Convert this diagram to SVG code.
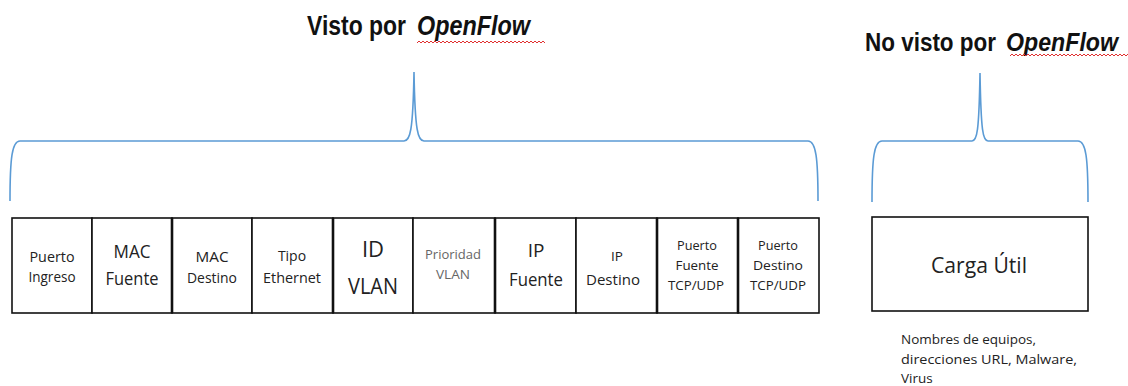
<svg xmlns="http://www.w3.org/2000/svg" width="1128" height="386" viewBox="0 0 1128 386">
  <style>
    .title { font-family: "Liberation Sans", Arial, sans-serif; font-weight: bold; font-size: 27px; fill: #111; }
    .title2 { font-family: "Liberation Sans", Arial, sans-serif; font-weight: bold; font-size: 25px; fill: #111; }
    .brand { font-style: italic; }
    .brace { fill: none; stroke: #5B9BD5; stroke-width: 1.6; }
    .cell { fill: #fff; stroke: #111; stroke-width: 1.6; }
    .sep { stroke: #111; stroke-width: 2.6; }
    .t { font-family: "Open Sans", "Noto Sans", sans-serif; fill: #222; text-anchor: middle; }
    .sm { font-size: 14px; }
    .md { font-size: 13.5px; }
    .lg { font-size: 19px; }
    .xl { font-size: 22px; }
    .xs { font-size: 12.5px; fill: #666; }
    .note { font-family: "Open Sans", "Noto Sans", sans-serif; font-size: 13.5px; fill: #222; }
    .squiggle { fill: none; stroke: #e03030; stroke-width: 1; }
  </style>

  <!-- headings -->
  <g id="heading-visto">
    <text class="title" x="307" y="35" textLength="99" lengthAdjust="spacingAndGlyphs">Visto por</text>
    <text class="title brand" x="417" y="35" textLength="113" lengthAdjust="spacingAndGlyphs">OpenFlow</text>
    <path class="squiggle" d="M417,43 l2,-2 l2,2 l2,-2 l2,2 l2,-2 l2,2 l2,-2 l2,2 l2,-2 l2,2 l2,-2 l2,2 l2,-2 l2,2 l2,-2 l2,2 l2,-2 l2,2 l2,-2 l2,2 l2,-2 l2,2 l2,-2 l2,2 l2,-2 l2,2 l2,-2 l2,2 l2,-2 l2,2 l2,-2 l2,2 l2,-2 l2,2 l2,-2 l2,2 l2,-2 l2,2 l2,-2 l2,2 l2,-2 l2,2 l2,-2 l2,2 l2,-2 l2,2 l2,-2 l2,2 l2,-2 l2,2 l2,-2 l2,2 l2,-2 l2,2 l2,-2 l2,2 l2,-2 l2,2 l2,-2 l2,2 l2,-2 l2,2 l2,-2 l2,2"/>
  </g>
  <g id="heading-no-visto">
    <text class="title2" x="865" y="51" textLength="131" lengthAdjust="spacingAndGlyphs">No visto por</text>
    <text class="title2 brand" x="1006" y="51" textLength="112" lengthAdjust="spacingAndGlyphs">OpenFlow</text>
    <path class="squiggle" d="M1010,56 l2,-2 l2,2 l2,-2 l2,2 l2,-2 l2,2 l2,-2 l2,2 l2,-2 l2,2 l2,-2 l2,2 l2,-2 l2,2 l2,-2 l2,2 l2,-2 l2,2 l2,-2 l2,2 l2,-2 l2,2 l2,-2 l2,2 l2,-2 l2,2 l2,-2 l2,2 l2,-2 l2,2 l2,-2 l2,2 l2,-2 l2,2 l2,-2 l2,2 l2,-2 l2,2 l2,-2 l2,2 l2,-2 l2,2 l2,-2 l2,2 l2,-2 l2,2 l2,-2 l2,2 l2,-2 l2,2 l2,-2 l2,2 l2,-2 l2,2 l2,-2 l2,2 l2,-2 l2,2 l2,-2"/>
  </g>

  <!-- braces -->
  <g id="connectors">
    <path class="brace" d="M10,201 C10,158 12,141 20,141 L404,141 C410,141 413,132 414,72 C415,132 418,141 424,141 L808,141 C816,141 818,158 818,201"/>
    <path class="brace" d="M872,202 C872,158 874,141 882,141 L972,141 C977,141 979,132 980,73 C981,132 983,141 988,141 L1078,141 C1086,141 1088,158 1088,202"/>
  </g>

  <!-- header fields -->
  <g id="field-puerto-ingreso">
    <rect class="cell" x="12" y="218" width="80" height="95"/>
    <text class="t sm" x="52" y="262" textLength="45" lengthAdjust="spacingAndGlyphs">Puerto</text>
    <text class="t sm" x="52" y="282" textLength="47" lengthAdjust="spacingAndGlyphs">Ingreso</text>
  </g>
  <g id="field-mac-fuente">
    <rect class="cell" x="92" y="218" width="80" height="95"/>
    <text class="t lg" x="132" y="258" textLength="37" lengthAdjust="spacingAndGlyphs">MAC</text>
    <text class="t lg" x="132" y="285" textLength="53" lengthAdjust="spacingAndGlyphs">Fuente</text>
  </g>
  <g id="field-mac-destino">
    <rect class="cell" x="172" y="218" width="80" height="95"/>
    <text class="t sm" x="212" y="262" textLength="33" lengthAdjust="spacingAndGlyphs">MAC</text>
    <text class="t sm" x="212" y="283" textLength="50" lengthAdjust="spacingAndGlyphs">Destino</text>
  </g>
  <g id="field-tipo-ethernet">
    <rect class="cell" x="252" y="218" width="81" height="95"/>
    <text class="t sm" x="292" y="261">Tipo</text>
    <text class="t sm" x="292" y="283" textLength="58" lengthAdjust="spacingAndGlyphs">Ethernet</text>
  </g>
  <g id="field-id-vlan">
    <rect class="cell" x="333" y="218" width="80" height="95"/>
    <text class="t xl" x="373" y="257">ID</text>
    <text class="t xl" x="373" y="294" textLength="50" lengthAdjust="spacingAndGlyphs">VLAN</text>
  </g>
  <g id="field-prioridad-vlan">
    <rect class="cell" x="413" y="218" width="82" height="95"/>
    <text class="t xs" x="453" y="259" textLength="56" lengthAdjust="spacingAndGlyphs">Prioridad</text>
    <text class="t xs" x="453" y="279" textLength="34" lengthAdjust="spacingAndGlyphs">VLAN</text>
  </g>
  <g id="field-ip-fuente">
    <rect class="cell" x="495" y="218" width="81" height="95"/>
    <text class="t lg" x="536" y="257">IP</text>
    <text class="t lg" x="536" y="286" textLength="54" lengthAdjust="spacingAndGlyphs">Fuente</text>
  </g>
  <g id="field-ip-destino">
    <rect class="cell" x="576" y="218" width="81" height="95"/>
    <text class="t md" x="617" y="261">IP</text>
    <text class="t sm" x="613" y="285" textLength="54" lengthAdjust="spacingAndGlyphs">Destino</text>
  </g>
  <g id="field-puerto-fuente">
    <rect class="cell" x="657" y="218" width="81" height="95"/>
    <text class="t md" x="697" y="250" textLength="40" lengthAdjust="spacingAndGlyphs">Puerto</text>
    <text class="t md" x="697" y="270" textLength="43" lengthAdjust="spacingAndGlyphs">Fuente</text>
    <text class="t md" x="696" y="290" textLength="56" lengthAdjust="spacingAndGlyphs">TCP/UDP</text>
  </g>
  <g id="field-puerto-destino">
    <rect class="cell" x="738" y="218" width="81" height="95"/>
    <text class="t md" x="778" y="250" textLength="40" lengthAdjust="spacingAndGlyphs">Puerto</text>
    <text class="t md" x="778" y="270" textLength="50" lengthAdjust="spacingAndGlyphs">Destino</text>
    <text class="t md" x="778" y="290" textLength="56" lengthAdjust="spacingAndGlyphs">TCP/UDP</text>
  </g>

  <!-- heavier field separators -->
  <g id="separators">
    <line class="sep" x1="172" y1="218" x2="172" y2="313"/>
    <line class="sep" x1="333" y1="218" x2="333" y2="313"/>
    <line class="sep" x1="495" y1="218" x2="495" y2="313"/>
    <line class="sep" x1="657" y1="218" x2="657" y2="313"/>
    <line class="sep" x1="738" y1="218" x2="738" y2="313"/>
  </g>

  <!-- payload -->
  <g id="payload">
    <rect class="cell" x="872" y="217" width="216" height="94"/>
    <text class="t" font-size="21.5" x="979" y="273" textLength="96" lengthAdjust="spacingAndGlyphs">Carga Útil</text>
    <text class="note" x="901" y="344" textLength="135" lengthAdjust="spacingAndGlyphs">Nombres de equipos,</text>
    <text class="note" x="901" y="364" textLength="176" lengthAdjust="spacingAndGlyphs">direcciones URL, Malware,</text>
    <text class="note" x="901" y="383">Virus</text>
  </g>
</svg>
